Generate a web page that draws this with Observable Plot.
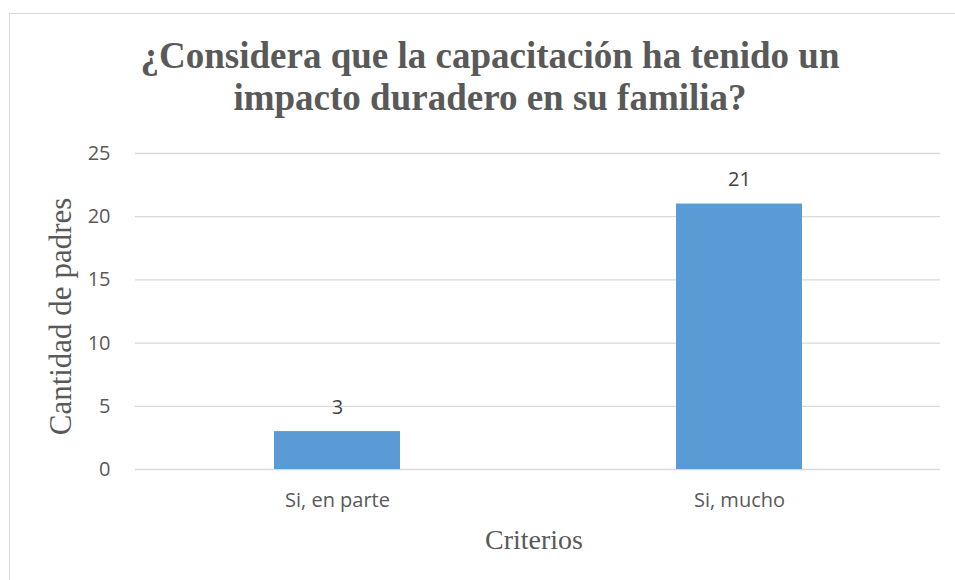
<!DOCTYPE html>
<html><head><meta charset="utf-8">
<script src="https://cdn.jsdelivr.net/npm/d3@7"></script>
<script src="https://cdn.jsdelivr.net/npm/@observablehq/plot@0.6"></script>
<style>
body{margin:0;background:#fff;}
#wrap{position:relative;width:955px;height:580px;overflow:hidden;background:#fff;}
#frame{position:absolute;left:9px;top:13px;width:1000px;height:600px;border:1px solid #d9d9d9;}
#title{position:absolute;left:0;top:35px;width:980px;text-align:center;font:bold 37px "Liberation Serif",serif;color:#595959;line-height:42px;}
#chart{position:absolute;left:0;top:130px;}
#chart svg{overflow:visible;}
</style></head><body>
<div id="wrap"><div id="frame"></div><div id="title"></div><div id="chart"></div></div>
<script>
const categories = ["Si, en parte", "Si, mucho"];
const values = [3, 21];
const yTicks = [0, 5, 10, 15, 20, 25];
const titleLines = ["¿Considera que la capacitación ha tenido un", "impacto duradero en su familia?"];
const yLabel = "Cantidad de padres";
const xLabel = "Criterios";

const data = categories.map((c, i) => ({cat: c, value: values[i]}));

document.getElementById("title").innerHTML = titleLines.join("<br>");

const chart = Plot.plot({
  width: 955,
  height: 450,
  marginLeft: 135,
  marginRight: 15,
  marginTop: 23,
  marginBottom: 111,
  style: {fontFamily: "'Open Sans', sans-serif", fontSize: "20px", color: "#595959", background: "transparent", overflow: "visible"},
  x: {domain: categories, paddingInner: 0.687, paddingOuter: 0.3435},
  y: {domain: [0, 25]},
  marks: [
    Plot.gridY(yTicks, {stroke: "#d9d9d9", strokeOpacity: 1, strokeWidth: 1.3}),
    Plot.barY(data, {x: "cat", y: "value", fill: "#5b9bd5"}),
    Plot.text(data, {x: "cat", y: "value", text: d => String(d.value), dy: -24, fontSize: 20, fill: "#404040"}),
    Plot.axisY({ticks: yTicks, tickSize: 0, tickPadding: 25, fontSize: 20, label: null, fill: "#595959"}),
    Plot.axisX({tickSize: 0, tickPadding: 23, fontSize: 20, label: null, fill: "#595959"}),
    Plot.text([yLabel], {frameAnchor: "left", textAnchor: "middle", dx: -74, dy: 5, rotate: -90, fontSize: 31, fontFamily: "'Liberation Serif', serif", fill: "#595959"}),
    Plot.text([xLabel], {frameAnchor: "bottom", dx: -4, dy: 79, fontSize: 28, fontFamily: "'Liberation Serif', serif", fill: "#595959"})
  ]
});
document.getElementById("chart").appendChild(chart);
</script>
</body></html>
